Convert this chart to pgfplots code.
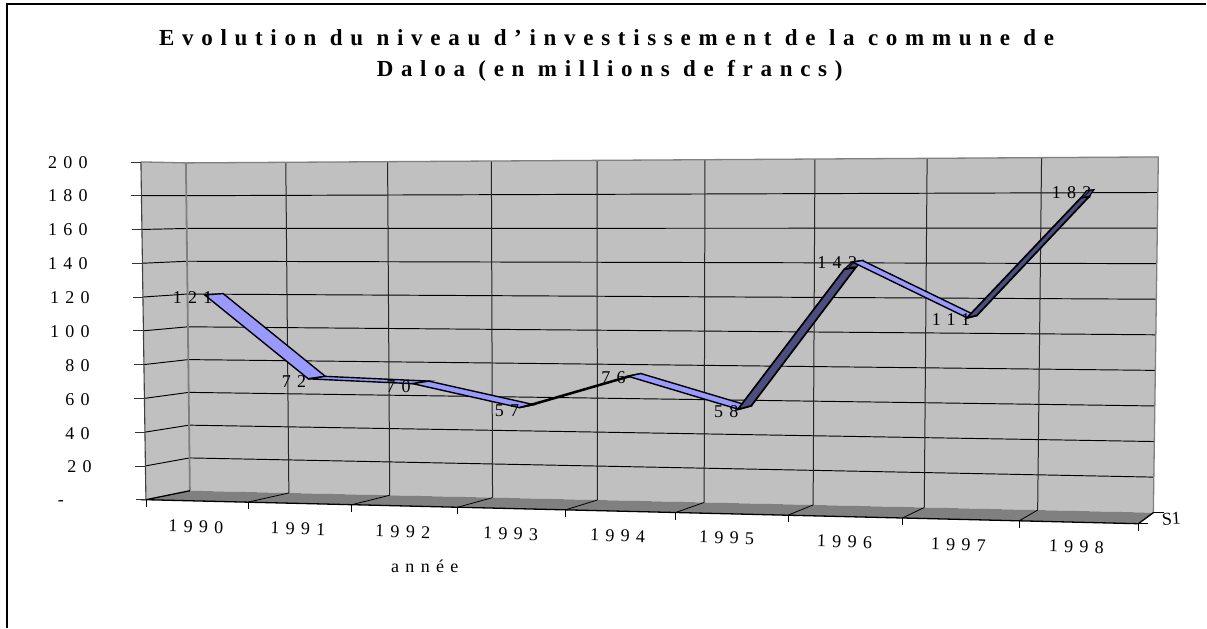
\documentclass[border=0pt]{standalone}
\usepackage{pgfplots}
\usepackage{pgfplotstable}
\usepackage{fontspec}
\pgfplotsset{compat=1.18}
\setmainfont{Liberation Serif}
\newfontfamily\spc[LetterSpace=35]{Liberation Serif}
\newfontfamily\spt[LetterSpace=33.5]{Liberation Serif}
\definecolor{wall}{HTML}{C0C0C0}
\definecolor{floorc}{HTML}{808080}
\definecolor{lt}{HTML}{9999FF}
\definecolor{dk}{HTML}{4D4D80}
\definecolor{edge}{HTML}{808080}
\pgfplotsset{
  table/proj/.style={
    x expr={PX(\thisrow{u},\thisrow{v},\thisrow{w})},
    y expr={PY(\thisrow{u},\thisrow{v},\thisrow{w})}},
  table/inl/.style={proj,row sep=\\},
}
\pgfplotstableread{
u   v   w    dx  dy
0.5 121 0.25 8   -3
1.5 72  0.25 -2  -3
2.5 70  0.25 -2  -3
3.5 57  0.25 0   -3
4.5 76  0.25 -2  -1
5.5 58  0.25 0   -2
6.5 142 0.25 5   -1
7.5 111 0.25 3   -2
8.5 182 0.25 5   -2
}\data
% one ribbon segment between two years: u0 v0 u1 v1 colour
\newcommand{\seg}[5]{\addplot[fill=#5,draw=black,line width=1.4pt,line join=miter] table[inl]{u v w\\ #1 #2 0.25\\ #1 #2 0.68\\ #3 #4 0.68\\ #3 #4 0.25\\ #1 #2 0.25\\}--cycle;}
% rising segment, seen from below: strip and end face. u0 v0 u1 v1 v1-thickness
\newcommand{\segup}[5]{%
\addplot[fill=dk,draw=black,line width=1.7pt,line join=miter] table[inl]{u v w\\ #1 #2 0.22\\ #1 #2 0.72\\ #3 #5 0.40\\ #3 #5 -0.08\\ #1 #2 0.22\\}--cycle;
\addplot[fill=dk,draw=black,line width=1.2pt,line join=miter] table[inl]{u v w\\ #3 #5 -0.08\\ #3 #5 0.40\\ #3 #4 0.68\\ #3 #4 0.25\\ #3 #5 -0.08\\}--cycle;}
\begin{document}
\begin{tikzpicture}[
  declare function={
    SS(\u)=0.916*(\u/9)/(1-0.084*(\u/9));
    PX(\u,\v,\w)=(1-\w)*((1-\v/200)*(146+993*SS(\u))+(\v/200)*(141+1003*SS(\u)))
                 +\w*((1-\v/200)*(190+964*SS(\u))+(\v/200)*(186+973*SS(\u)));
    PY(\u,\v,\w)=(1-\w)*((1-\v/200)*(500+24*SS(\u))+(\v/200)*(162-4*SS(\u)))
                 +\w*((1-\v/200)*(491+22*SS(\u))+(\v/200)*(163-6*SS(\u)));
  }]
\begin{axis}[
  hide axis, scale only axis, width=1207pt, height=628pt,
  xmin=0, xmax=1207, ymin=0, ymax=628, y dir=reverse,
  clip=false, axis on top=false,
  every axis plot/.append style={mark=none},
  cycle list={{black}},
]
% frame
\addplot[black,line width=1.4pt] coordinates {(7,628) (7,4) (1207,4)};
% walls
\addplot[fill=wall,draw=none] table[inl]{u v w\\ 0 0 0\\ 0 200 0\\ 0 200 1\\ 9 200 1\\ 9 0 1\\ 0 0 1\\ 0 0 0\\}--cycle;
% floor
\addplot[fill=floorc,draw=none] table[inl]{u v w\\ 0 0 0\\ 9 0 0\\ 9 0 1\\ 0 0 1\\ 0 0 0\\}--cycle;
% horizontal gridlines
\pgfplotsinvokeforeach{20,40,60,80,100,120,140,160,180}{
  \addplot[black,line width=0.95pt] table[inl]{u v w\\ 0 #1 0\\ 0 #1 1\\ 9 #1 1\\};
}
% vertical gridlines on the back wall
\pgfplotsinvokeforeach{1,2,3,4,5,6,7,8}{
  \addplot[black!85,line width=1pt] table[inl]{u v w\\ #1 0 1\\ #1 200 1\\};
  \addplot[black,line width=0.8pt] table[inl]{u v w\\ #1 0 0\\ #1 0 1\\};
}
% edges
\addplot[edge,line width=1.3pt] table[inl]{u v w\\ 0 200 0\\ 0 200 1\\ 9 200 1\\ 9 0 1\\};
\addplot[edge,line width=1.8pt] table[inl]{u v w\\ 0 0 1\\ 0 200 1\\};
\addplot[black!75,line width=1.1pt] table[inl]{u v w\\ 0 0 0\\ 0 200 0\\};
\addplot[black,line width=1.3pt] table[inl]{u v w\\ 0 0 1\\ 0 0 0\\ 9 0 0\\ 9 0 1\\};
% ticks
\pgfplotsinvokeforeach{0,1,2,3,4,5,6,7,8,9}{
  \addplot[black,line width=0.7pt] table[row sep=\\,
    x expr={PX(\thisrow{u},0,0)},
    y expr={PY(\thisrow{u},0,0)+\thisrow{d}}]{u d\\ #1 0\\ #1 7\\};
}
\pgfplotsinvokeforeach{0,20,40,60,80,100,120,140,160,180,200}{
  \addplot[black!80,line width=0.8pt] table[row sep=\\,
    x expr={PX(0,#1,0)+\thisrow{d}},
    y expr={PY(0,#1,0)}]{d\\ 0\\ -10\\};
}
\addplot[black,line width=0.7pt] table[row sep=\\,
    x expr={PX(9,0,1)+\thisrow{d}},
    y expr={PY(9,0,1)}]{d\\ 0\\ 11\\};
\addplot[black,line width=0.7pt] table[row sep=\\,
    x expr={PX(9,0,0)+\thisrow{d}},
    y expr={PY(9,0,0)}]{d\\ 0\\ 10\\};
% ribbon
\seg{0.5}{121}{1.5}{72}{lt}
\seg{1.5}{72}{2.5}{70}{lt}
\seg{2.5}{70}{3.5}{57}{lt}
\seg{3.5}{57}{4.5}{76}{dk}
\seg{4.5}{76}{5.5}{58}{lt}
\segup{5.5}{58}{6.5}{142}{138.6}
\seg{6.5}{142}{7.5}{111}{lt}
\segup{7.5}{111}{8.5}{182}{178.4}
% data labels
\addplot[draw=none,
  visualization depends on={\thisrow{dx} \as \ldx},
  visualization depends on={\thisrow{dy} \as \ldy},
  nodes near coords, point meta=explicit symbolic,
  nodes near coords style={anchor=east,font=\spc\fontsize{18}{20}\selectfont,inner sep=0pt,text=black,xshift=\ldx pt,yshift=\ldy pt}]
  table[proj,meta=v]{\data};
% value axis labels
\tikzset{yl/.style={anchor=east,inner sep=0pt,font=\spc\fontsize{18}{20}\selectfont,text=black}}
\node[yl] at (axis cs:88,163) {200};
\node[yl] at (axis cs:88,196) {180};
\node[yl] at (axis cs:88,230) {160};
\node[yl] at (axis cs:88,264) {140};
\node[yl] at (axis cs:90,298) {120};
\node[yl] at (axis cs:90,332) {100};
\node[yl] at (axis cs:90,366) {80};
\node[yl] at (axis cs:90,400) {60};
\node[yl] at (axis cs:90,434) {40};
\node[yl] at (axis cs:92,467) {20};
\node[yl] at (axis cs:64,503) {-};
% category labels
\tikzset{xl/.style={anchor=center,inner sep=0pt,rotate=-1.4,font=\spc\fontsize{18}{20}\selectfont,text=black}}
\node[xl] at (axis cs:196,527) {1990};
\node[xl] at (axis cs:298,529) {1991};
\node[xl] at (axis cs:403,532) {1992};
\node[xl] at (axis cs:511,534) {1993};
\node[xl] at (axis cs:618,536) {1994};
\node[xl] at (axis cs:727,538) {1995};
\node[xl] at (axis cs:845,542) {1996};
\node[xl] at (axis cs:959,545) {1997};
\node[xl] at (axis cs:1077,547) {1998};
\node[anchor=center,inner sep=0pt,font=\spc\fontsize{18}{20}\selectfont,text=black] at (axis cs:425,567) {année};
\node[anchor=center,inner sep=0pt,rotate=4,font=\fontsize{18}{20}\selectfont,text=black] at (axis cs:1172,519) {S1};
% title
\node[anchor=center,inner sep=0pt,font=\spt\bfseries\fontsize{23}{26}\selectfont] at (axis cs:607,38) {Evolution du niveau d’investissement de la commune de};
\node[anchor=center,inner sep=0pt,font=\spt\bfseries\fontsize{23}{26}\selectfont] at (axis cs:610,71) {Daloa (en millions de francs)};
\end{axis}
\path[use as bounding box] (0,0) rectangle (1207pt,628pt);
\end{tikzpicture}
\end{document}
